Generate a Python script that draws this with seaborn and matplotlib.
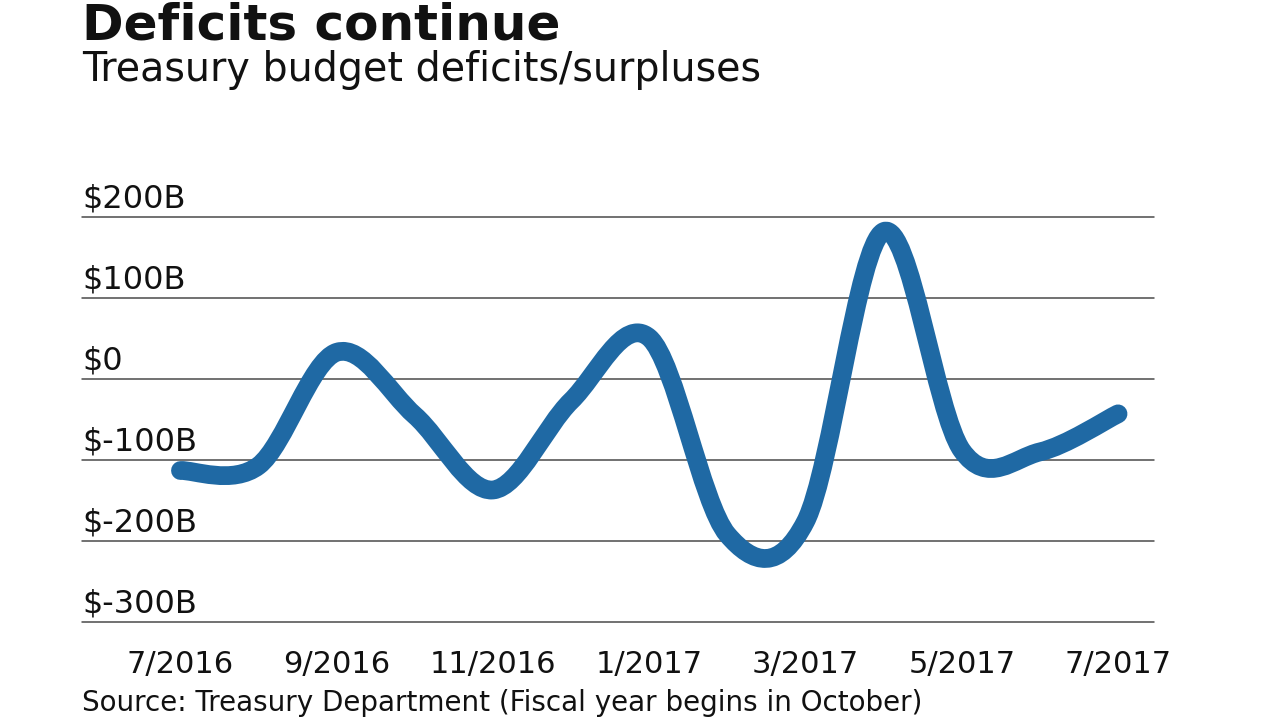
###
# Treasury budget deficits/surpluses, monthly, 7/2016 - 7/2017
###

import numpy as np
import matplotlib
matplotlib.use('Agg')
import matplotlib.pyplot as plt
from matplotlib.path import Path
from matplotlib.patches import PathPatch
from matplotlib.transforms import blended_transform_factory, offset_copy
import seaborn as sns

# Data (billions of dollars, negative = deficit)
months = ['7/2016', '8/2016', '9/2016', '10/2016', '11/2016', '12/2016', '1/2017',
          '2/2017', '3/2017', '4/2017', '5/2017', '6/2017', '7/2017']
balance = [-113, -107, 33, -45, -137, -27, 51, -192, -176, 182, -88, -90, -43]
tick_months = ['7/2016', '9/2016', '11/2016', '1/2017', '3/2017', '5/2017', '7/2017']
y_ticks = [200, 100, 0, -100, -200, -300]
y_labels = ['$200B', '$100B', '$0', '$-100B', '$-200B', '$-300B']

line_color = '#1f69a4'
grid_color = '#4a4a4a'

sns.set_style('white')
plt.rcParams['font.family'] = ['DejaVu Sans']

fig = plt.figure(figsize=(12.8, 7.2), dpi=100)
ax = fig.add_axes([82 / 1280, 1 - 622 / 720, (1154 - 82) / 1280, (622 - 217) / 720])

x = np.arange(len(months))
y = np.array(balance, dtype=float)

# Smooth line through the monthly values (Catmull-Rom as cubic Bezier segments)
px = np.concatenate([[x[0]], x, [x[-1]]])
py = np.concatenate([[y[0]], y, [y[-1]]])
verts = [(x[0], y[0])]
codes = [Path.MOVETO]
for i in range(1, len(px) - 2):
    c1 = (px[i] + (px[i + 1] - px[i - 1]) / 6, py[i] + (py[i + 1] - py[i - 1]) / 6)
    c2 = (px[i + 1] - (px[i + 2] - px[i]) / 6, py[i + 1] - (py[i + 2] - py[i]) / 6)
    verts += [c1, c2, (px[i + 1], py[i + 1])]
    codes += [Path.CURVE4] * 3
patch = PathPatch(Path(verts, codes), facecolor='none', edgecolor=line_color,
                  lw=13.5, capstyle='round', joinstyle='round', zorder=3, clip_on=False)
ax.add_patch(patch)

ax.set_xlim(-1.26, 12.46)
ax.set_ylim(-300, 200)

# Horizontal gridlines
for v in y_ticks:
    ax.axhline(v, color=grid_color, lw=1.1, zorder=1, clip_on=False)

# Y labels sit above their gridline, left-aligned
trans = offset_copy(blended_transform_factory(ax.transAxes, ax.transData),
                    fig=fig, y=7, units='points')
for v, lab in zip(y_ticks, y_labels):
    ax.text(0, v, lab, transform=trans, ha='left', va='baseline',
            fontsize=23, color='#111111')

ax.set_yticks([])
ax.set_xticks([months.index(m) for m in tick_months])
ax.set_xticklabels(tick_months, fontsize=22, color='#111111')
ax.tick_params(axis='x', length=0, pad=20)
for s in ax.spines.values():
    s.set_visible(False)

# Titles and source
fig.text(82 / 1280, 1 - 40 / 720, 'Deficits continue', fontsize=36,
         fontweight='bold', color='#111111', ha='left', va='baseline')
fig.text(82 / 1280, 1 - 81 / 720, 'Treasury budget deficits/surpluses', fontsize=28.5,
         color='#111111', ha='left', va='baseline')
fig.text(82 / 1280, 1 - 711 / 720, 'Source: Treasury Department (Fiscal year begins in October)',
         fontsize=20, color='#111111', ha='left', va='baseline')

fig.savefig('out.png', dpi=100)
plt.close(fig)
